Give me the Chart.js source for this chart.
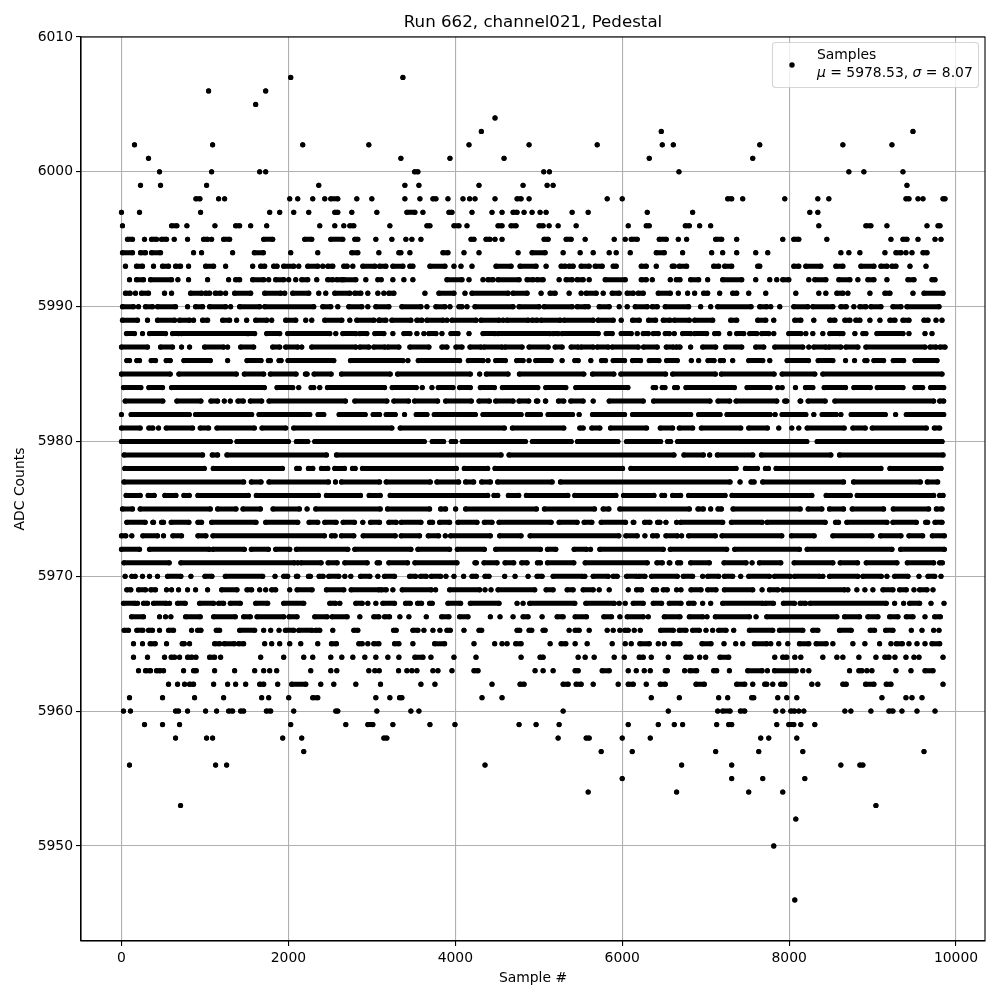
<!DOCTYPE html>
<html><head><meta charset="utf-8">
<style>html,body{margin:0;padding:0;background:#fff}canvas{display:block}</style>
<script src="https://cdn.jsdelivr.net/npm/chart.js@4"></script>
</head><body><canvas id="c" width="1000" height="1000"></canvas>
<script>
// Sample numbers, one list per ADC value.
// A plain number is one sample. [a,b] is a stretch from sample a to sample b
// where the dots overlap too much to read one by one.
const r6007=[2028,3372];
const r6006=[1044,1728];
const r6005=[1608];
const r6004=[4476];
const r6003=[4312,6468,9484];
const r6002=[156,1092,2172,2964,4164,4884,5700,6480,6612,7648,8644,9232];
const r6001=[324,3348,3936,4584,6324,7564];
const r6000=[456,1080,1656,1728,[3512,3552],5060,5128,6680,8716,8896,9364];
const r5999=[228,468,1020,2364,3396,3564,4284,4812,5100,5172,9412];
const r5998=[[892,940],1164,1236,2016,2112,2292,2436,[2508,2592],2820,3000,3396,3576,[3732,3768],3912,4092,4172,4236,4476,[4740,4788],4884,5820,6000,[7264,7312],7444,7948,8344,8476,[9400,9436],9544,9604,[9844,9868]];
const r5997=[0,216,948,1776,1896,2064,2244,[2556,2592],2760,3060,[3420,3516],3612,[3924,3960],4200,4440,4560,[4692,4740],4824,4920,5016,5088,5400,5592,6300,6844,8248,8344];
const r5996=[12,[600,664],784,1120,[1368,1416],1548,1740,2376,2556,2664,[2736,2784],3216,[3660,3696],[3984,4044],4140,[4512,4560],[4668,4728],[5004,5052],5124,5232,5448,6072,[6288,6324],[6756,6804],6928,7060,8356,[8920,8980],9172,9652,[9784,9808]];
const r5995=[[72,132],276,[360,420],[480,540],632,792,[984,1032],1080,[1224,1296],[1704,1812],[2196,2280],[2508,2652],[2796,2832],3048,3240,3408,3480,3588,[4188,4224],[4368,4416],4476,4560,[5064,5112],[5328,5388],5556,5904,6036,[6108,6180],[6444,6528],6672,6772,[7120,7192],7372,7924,[8056,8116],8452,9220,[9364,9412],9544,9748,9820];
const r5994=[[12,132],[228,288],[360,468],864,960,1332,[1592,1700],2028,2352,[2760,2832],3084,[3324,3348],3456,[3852,3912],4104,4284,4752,[4920,5076],5292,5496,5652,5844,5928,6096,[6408,6504],6724,7072,7204,7372,7600,7744,8620,8716,8848,9148,[9280,9340],9400,9472,[9604,9652]];
const r5993=[48,[180,252],384,[492,564],[648,708],804,[1008,1104],1248,1572,[1668,1716],[1824,1864],[1944,2064],2124,[2232,2352],2412,[2472,2532],[2664,2704],2772,[2892,3036],[3092,3168],[3252,3372],[3456,3492],[3696,3876],3984,4068,4200,[4488,4668],[4776,4968],5088,[5268,5316],[5364,5412],[5508,5604],[5676,5760],[5892,5928],[6228,6288],6408,[6600,6624],[6684,6772],[7096,7156],[7228,7312],[7624,7648],[8056,8116],[8200,8380],[8560,8644],[8860,9016],[9100,9172],[9232,9280],9448,9640];
const r5992=[96,[180,264],[348,600],676,804,1032,1284,[1368,1416],[1572,1704],1764,[1848,1944],2004,2088,[2160,2232],2340,[2472,2532],[2580,2640],[2664,2808],2928,3072,3112,3252,3384,3492,[3900,4080],4164,4332,[4392,4452],[4512,4764],[4860,4932],[4980,5052],5244,[5328,5400],[5460,5532],5604,[5796,6036],[6228,6288],6360,6576,[6648,6692],[6820,6916],7024,[7204,7432],7600,7768,7852,[7924,7996],8236,[8308,8440],[8596,8728],8824,[8944,9016],9172,[9424,9496],[9712,9748]];
const r5991=[[48,104],168,[240,324],516,600,[828,960],[1008,1056],[1124,1188],1248,[1356,1548],[1716,1908],1956,[2052,2244],2364,2448,[2556,2736],[2796,2868],2952,3072,3144,[3204,3264],3636,[3804,3984],4116,[4200,4632],[4692,4860],5028,[5136,5196],5364,5508,[5568,5688],5772,[5880,5964],[6060,6132],[6192,6252],[6432,6576],6672,6784,6868,[6976,7024],7168,[7324,7372],7516,7720,8080,8356,8440,[8572,8644],8704,8968,[9148,9208],9484,[9616,9844]];
const r5990=[[12,144],204,[288,372],[432,648],792,[888,972],[1056,1248],1308,[1416,1656],[1716,2304],[2412,2508],2592,[2724,2880],2952,[3048,3204],[3360,3588],3660,[3768,3876],3936,[4044,4080],4140,[4236,4692],[4764,5004],[5064,5400],[5460,5556],5592,[5724,5844],5964,6060,[6156,6300],[6360,6420],[6516,6796],6940,7060,[7144,7544],[7648,7732],7780,7888,[8056,8224],[8284,8524],[8620,8684],8776,[8848,8920],[8980,9100],[9244,9340],[9412,9796]];
const r5989=[[12,192],312,[432,636],[696,816],864,[972,1032],[1212,1296],1380,1500,[1608,1740],1800,[1968,2088],2208,2280,[2436,2640],2736,[2820,3024],3084,[3092,3168],[3240,3468],[3540,3600],[3660,3852],3900,[3960,4248],[4308,4524],4572,[4620,4872],[4920,4980],[5028,5256],[5304,5652],[5712,5892],5988,[6124,6204],[6316,6400],[6492,6572],[6624,6804],[6868,7084],[7300,7372],[7624,7720],7816,[8068,8140],8296,[8488,8548],[8668,8728],[8800,8848],8968,9088,[9208,9268],[9364,9436],[9616,9664],9760,9832];
const r5988=[[60,156],252,[336,528],[612,684],[720,1504],[1524,1596],[1740,1896],[1992,2496],2568,[2652,2808],[2856,2940],[3036,3144],3252,[3384,3456],3540,3624,[3684,3768],3840,[3948,4032],4164,[4332,4472],[4512,5132],[5172,5232],[5280,5712],[5808,5880],[5988,6108],6180,[6252,6312],[6372,6432],[6516,6564],6624,[6724,6820],[6868,7012],[7108,7156],7288,[7372,7456],[7528,7612],[7672,7756],7816,[7996,8140],8200,8284,8404,[8488,8608],8644,8788,[8884,8920],[9052,9364],9436,9628,9712];
const r5987=[[0,312],[468,612],720,816,[996,1224],1272,[1428,1584],[1812,1896],[1968,2112],2160,[2280,2808],[2856,2964],[3024,3156],[3192,3324],[3456,3684],[3840,3900],[4008,4080],[4176,4308],[4344,4560],[4596,4800],[4884,5112],[5196,5280],[5388,5472],[5508,5652],[5700,5832],[5880,6192],[6256,6420],[6528,6612],[6648,6692],6820,[6964,7120],[7240,7432],[7600,7696],[7828,8164],8236,[8296,8440],[8476,8620],[8680,8824],[8920,9628],[9688,9760],[9808,9868]];
const r5986=[[64,96],[184,216],[356,408],[536,584],[748,1064],1272,[1504,1672],[1760,1784],[1888,1912],[1996,2544],[2744,3372],3432,[3556,4052],[4156,4332],4392,[4484,4600],[4736,4812],4884,[4964,5148],5280,[5432,5472],5624,[5752,5800],[5892,6028],[6124,6220],[6324,6440],[6532,6660],6828,6916,[7028,7100],[7176,7212],7324,[7516,7684],7768,[7976,8232],[8348,8524],8676,8784,[8908,8932],[9016,9132],[9248,9372],[9508,9772]];
const r5985=[[0,584],[688,1376],[1472,1704],[1784,2092],[2204,2224],[2308,2512],[2636,3220],[3308,4180],4292,[4372,4632],[4768,5540],[5644,5900],[5984,6520],[6604,7116],[7188,7820],[7916,8308],[8404,9832]];
const r5984=[[24,232],[328,492],[600,1712],[1864,2052],2124,[2272,2304],2376,[2468,3152],[3244,3532],3604,3720,[3796,3972],[4052,4180],[4300,4468],[4564,4988],[5084,5324],[5444,6068],[6372,6400],[6480,6512],[6628,6660],[6764,7344],[7496,7772],7864,7916,8076,[8196,8284],[8420,8676],[8776,8972],[9056,9364],[9508,9600],[9696,9852]];
const r5983=[[44,496],[664,952],[1072,1152],1232,1304,[1396,1460],[1544,1680],[1768,2684],[2796,3180],[3264,3440],[3512,3788],[3884,4192],[4284,4408],[4484,4692],[4764,4880],[4972,4988],[5080,5084],[5236,5300],[5384,5532],5652,[5844,6252],[6376,7052],[7148,7288],[7364,7852],[7948,7972],[8132,8140],[8228,8432],[8548,9732],[9804,9852]];
const r5982=[0,[116,812],[888,1560],[1648,2256],[2356,2424],[2608,2920],[3016,3092],[3172,3280],3392,[3532,3660],[3748,4240],[4332,4788],[4864,5020],[5112,5404],5484,[5644,6028],[6124,6820],[6916,7172],[7256,7772],7832,[7916,8200],8296,[8396,8564],8620,[8744,9152],9276,[9404,9852]];
const r5981=[[0,224],[328,376],444,[536,852],[944,1044],[1144,1592],[1684,1968],[2064,3240],[3340,4588],[4684,5300],[5492,5532],[5636,5732],[5860,6292],[6456,6604],[6684,6844],[6948,7420],[7516,7740],7876,8032,8116,[8216,8660],[8764,8912],[8996,9644],[9740,9804]];
const r5980=[[0,1304],[1384,2000],[2096,2232],[2316,3628],[3724,3860],[3952,4004],[4084,4840],[4924,5388],[5464,5948],[6052,6460],[6544,6580],[6664,8212],[8336,9832]];
const r5979=[[32,972],[1088,1152],[1264,2456],[2576,4548],[4644,6620],[6740,6972],7048,[7140,7564],[7668,8500],[8604,9844]];
const r5978=[[40,992],[1100,1928],[2100,2130],[2240,2292],[2396,2472],[2556,2672],[2768,2800],[2888,4012],[4108,4388],[4476,6004],[6104,7364],[7476,7620],[7716,7752],[7844,9100],[9208,9820]];
const r5977=[[30,1464],[1556,1672],[1768,2480],2564,[2636,3092],[3172,3700],[3780,4040],[4124,4220],[4316,4420],[4508,5160],[5260,7292],7412,[7544,7580],[7684,8652],[8772,9572],[9656,9780]];
const r5976=[[56,224],[320,392],[520,652],[748,812],[916,1520],[1616,2360],[2456,2864],[2968,3100],[3220,4388],[4464,4508],[4636,4760],[4852,5348],[5432,5924],[6016,6380],[6476,6508],[6604,6700],[6796,7232],[7316,8272],[8444,8732],[8816,9732],[9804,9844]];
const r5975=[[12,132],[224,1064],[1152,1372],[1456,1664],[1816,2132],2224,[2328,3100],[3188,3692],[3824,3884],4004,[4124,4972],[5068,5668],[5772,5840],[5972,6804],[6908,6972],7060,[7148,7188],[7328,8132],[8228,8392],[8484,8652],[8756,9132],[9248,9672],[9764,9832]];
const r5974=[[64,284],[376,384],[480,504],[596,808],[916,960],[1080,1612],[1728,2112],[2248,2352],[2436,2572],[2656,2792],2892,[2984,3092],[3204,3292],[3352,3588],[3692,3728],[3812,3932],[4032,4260],[4348,4440],[4524,5148],[5244,5460],[5544,5636],[5748,6040],[6132,6140],[6268,6332],[6424,6452],6524,6652,[6700,7204],[7308,7676],[7736,8432],[8556,8592],[8692,9172],[9244,9524],[9636,9660],[9748,9832]];
const r5973=[[0,52],124,[256,432],504,[616,720],[916,1012],[1096,2432],[2516,2560],[2636,2784],[2896,3280],[3352,3572],[3676,3800],3880,[3944,4420],[4532,4788],[4896,5960],[6044,6180],6272,[6364,6420],[6524,6660],6712,[6796,7116],[7196,7912],[8028,8300],[8524,8992],[9096,9340],[9436,9600],[9716,9860]];
const r5972=[[0,216],[336,1052],[1096,1472],[1556,1760],[1848,2016],[2096,2712],[2796,3468],[3552,3932],[4024,4348],[4484,5020],[5104,5204],[5424,5572],5620,[5732,6492],[6576,7252],[7348,8124],[8216,9232],[9336,9860]];
const r5971=[[30,572],[712,2072],2112,[2152,2392],[2476,2584],[2676,2944],[3064,3092],[3204,3428],[3516,4020],[4236,4252],[4344,4500],[4596,4700],[4796,4860],[4984,5020],[5104,5420],[5556,6300],[6416,6480],[6564,6572],[6664,6700],[6820,7044],[7220,7484],7556,[7644,7900],[8060,8524],[8612,8820],[8924,9292],[9416,9732],[9804,9836]];
const r5970=[44,124,164,252,336,432,[552,712],832,[1000,1084],[1244,1692],1840,[1944,1992],[2096,2112],[2240,2264],[2368,2416],[2484,2604],2676,2748,[2864,2976],3072,[3152,3272],[3452,3524],[3584,3652],[3712,3824],3888,3984,4100,[4200,4252],[4356,4404],4592,4716,4872,[4980,5040],[5172,5524],5552,[5652,5832],[5892,5940],[6052,6172],[6200,6272],[6352,6660],[6732,6844],6964,[7024,7156],[7224,7324],7420,[7516,7764],[7824,8012],[8064,8364],8404,[8484,8824],[8884,9104],9172,[9264,9424],9556,[9664,9744],9820];
const r5969=[[64,112],[204,288],[352,408],540,600,684,792,888,1032,[1200,1384],[1504,1560],1656,1728,[1800,1848],2016,[2104,2284],[2456,2664],[2752,3084],[3112,3172],3252,[3364,3712],3764,[3932,4292],4356,4428,[4512,4952],[5088,5172],[5340,5412],[5532,5652],5724,5844,6072,[6172,6232],[6372,6412],[6492,6540],6652,6704,[6824,6944],[7024,7124],[7224,7564],7676,[7764,7864],[7924,8664],8704,8812,8908,9004,[9124,9244],[9324,9404],9496,[9564,9652],9724];
const r5968=[[24,164],192,[264,312],[384,536],576,[672,764],[936,1104],[1164,1224],[1304,1424],[1608,1752],[1944,2184],[2496,2564],2616,[2808,2884],2952,3048,[3132,3272],[3404,3460],[3548,3596],[3692,3724],[3912,4064],[4180,4524],4740,4812,[4892,5432],[5564,5904],5964,6036,[6132,6252],[6372,6472],[6564,6704],[6796,6860],6964,7060,[7204,7684],[7716,7812],[7932,8064],[8132,8196],[8252,9164],9264,9372,[9444,9564],9700,9856];
const r5967=[[120,264],456,528,592,[768,944],[1104,1364],[1464,1544],[1624,1944],[2008,2104],[2316,2464],[2524,2704],2856,[3024,3084],[3152,3212],3336,3444,3652,[3836,3924],[4052,4152],4420,4536,4692,[4812,4872],5040,[5220,5292],[5436,5572],[5780,5872],5972,[6060,6252],6312,[6504,6692],[6804,6964],7016,[7116,7524],7604,[7732,8572],[8664,8844],[8944,9064],[9204,9304],[9404,9484],9628,[9744,9812]];
const r5966=[[32,84],[184,256],[324,372],456,[564,624],840,[912,952],[1136,1176],[1416,1596],1704,1788,1888,[1964,2064],[2124,2284],[2328,2376],2532,[2784,2832],[3260,3292],[3492,3552],3624,3732,3816,[3900,3940],4104,[4284,4316],[4740,4772],[4884,4916],[5052,5076],5364,[5436,5484],5604,5820,5892,5972,[6032,6072],6144,6216,[6460,6612],[6684,6764],[6844,6924],7004,7084,[7156,7244],7336,[7524,7804],[7884,8164],[8284,8344],[8604,8744],[8972,9024],[9156,9244],9464,9592,9732,9796];
const r5965=[144,252,[344,404],540,[728,752],816,[1116,1176],[1232,1352],[1404,1464],1716,1800,1896,2016,2148,2352,[2516,2576],[2844,2884],2952,[3024,3084],[3272,3324],3492,[3752,3872],4224,4472,4560,4620,[4724,4788],5136,[5268,5324],5436,5580,5880,6036,6108,[6212,6324],6432,6504,[6612,6692],[6956,7064],7220,7360,7444,[7584,7732],7780,7876,7984,[8124,8236],[8324,8444],8524,8764,8908,9084,9220,[9284,9356],9436,9532,9628,[9712,9804]];
const r5964=[144,312,516,[596,636],696,[792,844],892,[1056,1116],1188,1668,1944,2184,2292,2508,2640,2772,2916,3048,3192,3324,[3516,3612],3708,3984,4248,4788,[5016,5052],5472,5556,5664,5904,6024,[6204,6252],6348,6552,[6764,6824],6928,7000,[7172,7276],7828,[7924,7972],8068,8140,8404,8572,8644,8836,9040,[9148,9196],9268,9400,9496,9556,9844];
const r5963=[204,[288,348],[420,464],504,744,[864,896],1116,1356,1596,1704,1776,1860,2268,2508,2580,2964,3036,3088,3320,3420,3480,3540,3732,3792,3960,[4224,4272],4956,5052,5172,[5436,5472],[5760,5844],6072,6168,6264,6336,[6516,6540],6748,[6812,6892],[7096,7132],7284,[7504,7676],7740,[7824,8084],8164,8236,8724,[8836,8872],8932,8992,9280,9460,[9628,9724]];
const r5962=[564,672,756,[816,864],1104,1272,1368,1488,[1656,1704],1872,[2040,2208],2388,2544,2808,3104,3588,3756,4440,[4776,4824],[5292,5352],[5448,5508],5652,5952,[6072,6132],6288,[6456,6516],[6884,6984],[7372,7468],7564,[7708,7732],7804,[7900,7948],8272,8344,[8644,8684],[8916,9016],[9164,9220],9844];
const r5961=[96,492,876,1224,1680,1764,2004,[2292,2352],3048,3216,[3332,3360],4320,4560,6348,6684,7156,7264,[7552,7576],7864,7972,8092,9112,9400,9472,9592];
const r5960=[24,108,[648,684],792,1008,1140,[1284,1332],[1428,1464],[1736,1788],2064,[2568,2592],3060,3468,3564,5292,6552,7144,[7204,7292],[7416,7468],7840,7924,[8020,8064],8116,8176,8668,8740,8980,[9196,9244],9352,9532,9748];
const r5959=[276,492,696,2028,2688,[2952,3012],3252,3696,3996,4764,4968,5244,6072,6432,6624,6724,7132,[7276,7312],7852,[7996,8056],8140,8308];
const r5958=[648,1020,1092,1932,2160,[3144,3180],5232,[5568,5604],6000,6336,7660,7756,8092];
const r5957=[2184,5748,6120,7120,7636,8164,9616];
const r5956=[96,1128,1260,4356,6712,7312,8620,[8848,8884]];
const r5955=[6000,7312,7684,8188];
const r5954=[5592,6652,7516,7924];
const r5953=[708,9040];
const r5952=[8080];
const r5950=[7816];
const r5946=[8068];

const adcValues=[6007,6006,6005,6004,6003,6002,6001,6000,5999,5998,5997,5996,5995,5994,5993,5992,5991,5990,5989,5988,5987,5986,5985,5984,5983,5982,5981,5980,5979,5978,5977,5976,5975,5974,5973,5972,5971,5970,5969,5968,5967,5966,5965,5964,5963,5962,5961,5960,5959,5958,5957,5956,5955,5954,5953,5952,5950,5946];
const sampleLists=[r6007,r6006,r6005,r6004,r6003,r6002,r6001,r6000,r5999,r5998,r5997,r5996,r5995,r5994,r5993,r5992,r5991,r5990,r5989,r5988,r5987,r5986,r5985,r5984,r5983,r5982,r5981,r5980,r5979,r5978,r5977,r5976,r5975,r5974,r5973,r5972,r5971,r5970,r5969,r5968,r5967,r5966,r5965,r5964,r5963,r5962,r5961,r5960,r5959,r5958,r5957,r5956,r5955,r5954,r5953,r5952,r5950,r5946];
const xTickValues=[0,2000,4000,6000,8000,10000];
const yTickValues=[5950,5960,5970,5980,5990,6000,6010];
const titleText='Run 662, channel021, Pedestal';
const xLabel='Sample #', yLabel='ADC Counts';
const legendName='Samples';

const pts=[];
adcValues.forEach((y,i)=>{
  sampleLists[i].forEach(e=>{
    if(Array.isArray(e)){pts.push({x:e[0],y},{x:e[1],y},{x:e[1],y:null});}
    else{pts.push({x:e,y},{x:e,y:null});}
  });
});

const FONT='"DejaVu Sans"';
const frameAndLegend={id:'frameAndLegend',afterDraw(ch){
  const c=ch.ctx,a=ch.chartArea;
  c.save();
  c.strokeStyle='#000';c.lineWidth=1.1;
  c.strokeRect(a.left,a.top,a.right-a.left,a.bottom-a.top);
  // legend
  c.beginPath();c.roundRect(772.5,42.5,206,45,3);
  c.fillStyle='rgba(255,255,255,0.8)';c.fill();
  c.strokeStyle='rgba(204,204,204,0.8)';c.lineWidth=1.1;c.stroke();
  c.fillStyle='#000';c.beginPath();c.arc(792,65,2.7,0,Math.PI*2);c.fill();
  c.textBaseline='alphabetic';c.textAlign='left';
  c.font='13.9px '+FONT;c.fillText(legendName,817,59);
  let x=817;const y=77;
  const parts=[['\u03bc',1],[' = 5978.53, ',0],['\u03c3',1],[' = 8.07',0]];
  parts.forEach(p=>{c.font=(p[1]?'italic ':'')+'13.9px '+FONT;c.fillText(p[0],x,y);x+=c.measureText(p[0]).width;});
  c.restore();
}};

new Chart(document.getElementById('c'),{
  type:'scatter',
  data:{datasets:[{label:legendName,data:pts,showLine:true,spanGaps:false,
    borderColor:'#000',borderWidth:5,borderCapStyle:'round',borderJoinStyle:'round',
    backgroundColor:'#000',pointBackgroundColor:'#000',pointBorderWidth:0,pointRadius:2.6,pointHoverRadius:2.6,tension:0}]},
  options:{responsive:false,animation:false,events:[],devicePixelRatio:1,
    layout:{padding:{left:0,right:15,top:0,bottom:0},autoPadding:false},
    plugins:{legend:{display:false},tooltip:{enabled:false},
      title:{display:true,text:titleText,color:'#000',fullSize:false,font:{family:FONT,size:16.67,weight:'normal',lineHeight:1.2},padding:{top:13,bottom:4}}},
    scales:{
      x:{type:'linear',min:-485,max:10347,
        afterBuildTicks(s){s.ticks=xTickValues.map(value=>({value}));},
        afterFit(s){s.height=59;},
        ticks:{maxRotation:0,autoSkip:false,color:'#000',font:{family:FONT,size:13.9},padding:4,callback:v=>String(v)},
        grid:{color:'#b0b0b0',lineWidth:1.1,tickColor:'#000',tickLength:5,drawTicks:true},
        border:{color:'#000',width:1.1},
        title:{display:true,text:xLabel,color:'#000',font:{family:FONT,size:13.9,lineHeight:1.2},padding:{top:4,bottom:13.5}}},
      y:{type:'linear',min:5942.95,max:6010,
        afterBuildTicks(s){s.ticks=yTickValues.map(value=>({value}));},
        afterFit(s){s.width=81;},
        ticks:{autoSkip:false,color:'#000',font:{family:FONT,size:13.9},padding:3,callback:v=>String(v)},
        grid:{color:'#b0b0b0',lineWidth:1.1,tickColor:'#000',tickLength:5},
        border:{color:'#000',width:1.1},
        title:{display:true,text:yLabel,color:'#000',font:{family:FONT,size:13.9,lineHeight:1.2},padding:{top:12.5,bottom:4}}}
    }},
  plugins:[frameAndLegend]
});
</script></body></html>
